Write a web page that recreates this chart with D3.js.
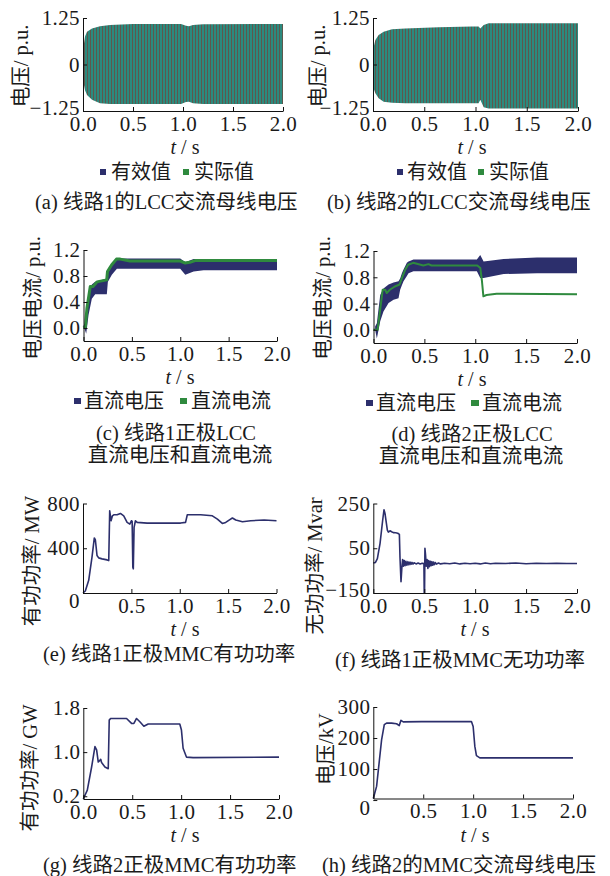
<!DOCTYPE html>
<html><head><meta charset="utf-8">
<script src="https://cdn.jsdelivr.net/npm/d3@7"></script>
<style>
html,body{margin:0;padding:0;background:#fff;}
text{font-family:"Liberation Serif","Noto Sans CJK SC",serif;fill:#1a1a1a;}
</style></head>
<body><svg id="c" width="610" height="876"></svg>
<script>
// ---------- data ----------
const xTickVals = [0, 0.5, 1.0, 1.5, 2.0];
// (a) LCC AC bus voltage, line 1 (envelope of oscillation, p.u.)
const tA   = [0, 0.02, 0.04, 0.09, 0.17, 0.27, 0.5, 0.98, 1.03, 1.06, 1.1, 1.2, 2.0];
const topA = [0.39, 0.75, 0.88, 0.97, 1.03, 1.06, 1.09, 1.09, 1.04, 1.03, 1.06, 1.08, 1.09];
const botA = [-0.42, -0.69, -0.82, -0.95, -1.04, -1.06, -1.06, -1.06, -1.01, -1.0, -1.04, -1.06, -1.06];
// (b) LCC AC bus voltage, line 2
const tB   = [0, 0.023, 0.055, 0.104, 0.185, 0.315, 0.64, 0.966, 1.03, 1.047, 1.08, 1.128, 1.6, 2.0];
const topB = [0.39, 0.66, 0.79, 0.88, 0.95, 0.97, 1.0, 1.02, 1.02, 0.97, 1.06, 1.11, 1.11, 1.11];
const botB = [-0.6, -0.77, -0.91, -1.0, -1.03, -1.04, -1.04, -1.04, -1.04, -0.95, -1.15, -1.18, -1.18, -1.18];
const yTicksAB = [-1.25, 0, 1.25];
const yLabelsAB = ["\u22121.25", "0", "1.25"];
// (c) line 1 DC voltage band and DC current
const tC   = [0, 0.028, 0.052, 0.086, 0.121, 0.241, 0.252, 0.293, 0.345, 1.0, 1.052, 1.138, 1.241, 2.0];
const lowC = [0.04, -0.09, 0.2, 0.45, 0.52, 0.52, 0.71, 0.82, 0.91, 0.91, 0.82, 0.87, 0.89, 0.89];
const upC  = [0.04, 0.09, 0.45, 0.67, 0.71, 0.76, 0.85, 0.96, 1.07, 1.07, 1.01, 1.06, 1.06, 1.06];
const tIc  = [0, 0.02, 0.035, 0.07, 0.1, 0.14, 0.24, 0.248, 0.29, 0.34, 0.38, 0.48, 1.0, 1.05, 1.1, 1.16, 2.0];
const vIc  = [0, 0.02, 0.3, 0.64, 0.64, 0.71, 0.74, 0.87, 0.97, 1.06, 1.06, 1.03, 1.03, 1.0, 1.01, 1.04, 1.04];
// (d) line 2 DC voltage band and DC current
const tD   = [0.016, 0.033, 0.066, 0.098, 0.148, 0.197, 0.246, 0.262, 0.279, 0.295, 0.328, 0.344, 0.393, 1.016, 1.049, 1.082, 1.279, 1.607, 2.0];
const lowD = [0, -0.13, 0.13, 0.28, 0.41, 0.46, 0.48, 0.61, 0.68, 0.74, 0.82, 0.86, 0.89, 0.89, 0.79, 0.79, 0.85, 0.86, 0.86];
const upD  = [0.05, 0.10, 0.53, 0.63, 0.69, 0.72, 0.74, 0.78, 0.86, 0.92, 1.02, 1.04, 1.07, 1.07, 1.14, 1.04, 1.08, 1.10, 1.10];
const tId  = [0, 0.04, 0.065, 0.09, 0.115, 0.13, 0.16, 0.21, 0.256, 0.28, 0.31, 0.34, 0.39, 0.49, 0.54, 0.57, 1.02, 1.05, 1.066, 1.08, 1.11, 1.21, 2.0];
const vId  = [0, 0, 0.3, 0.61, 0.61, 0.56, 0.61, 0.66, 0.69, 0.79, 0.91, 0.99, 1.02, 0.98, 1.0, 0.98, 0.98, 0.94, 0.74, 0.51, 0.53, 0.55, 0.54];
const yTicksCD = [0, 0.4, 0.8, 1.2];
const yLabelsCD = ["0.0", "0.4", "0.8", "1.2"];
// (e) MMC active power line 1 (MW)
const tE = [0, 0.024, 0.059, 0.093, 0.117, 0.128, 0.145, 0.162, 0.197, 0.249, 0.266, 0.276, 0.29, 0.304, 0.318, 0.352, 0.387, 0.421, 0.456, 0.484, 0.5, 0.508, 0.515, 0.52, 0.528, 0.542, 0.56, 0.663, 1.009, 1.06, 1.078, 1.216, 1.337, 1.389, 1.44, 1.475, 1.51, 1.544, 1.579, 1.648, 1.734, 1.872, 2.0];
const vE = [0, 18, 113, 320, 492, 474, 335, 314, 305, 296, 290, 735, 646, 690, 699, 699, 711, 690, 631, 616, 646, 640, 231, 216, 587, 646, 631, 625, 625, 631, 699, 699, 690, 661, 622, 631, 652, 670, 652, 637, 646, 652, 646];
const yTicksE = [0, 400, 800];
const yLabelsE = ["0", "400", "800"];
// (f) MMC reactive power line 1 (Mvar)
const tF = [0, 0.02, 0.04, 0.066, 0.092, 0.105, 0.115, 0.138, 0.148, 0.164, 0.18, 0.197, 0.22, 0.24, 0.256, 0.262, 0.272, 0.28, 0.288, 0.296, 0.304, 0.312, 0.32, 0.33, 0.34, 0.35, 0.36, 0.37, 0.38, 0.39, 0.40, 0.42, 0.44, 0.46, 0.48, 0.497, 0.500, 0.503, 0.507, 0.513, 0.52, 0.528, 0.536, 0.544, 0.552, 0.56, 0.568, 0.576, 0.584, 0.592, 0.60, 0.61, 0.62, 0.64, 0.66, 0.70, 0.75, 0.80, 0.85, 0.90, 0.95, 1.0, 1.05, 1.1, 1.15, 1.2, 1.3, 1.4, 1.5, 1.6, 1.7, 1.8, 1.9, 2.0];
const vF = [-16, -14, 4, 71, 175, 222, 205, 131, 122, 128, 124, 120, 119, 117, 112, 10, -100, -40, 0, -30, -5, -28, -8, -26, -10, -24, -12, -22, -13, -21, -15, -20, -16, -20, -17, -18, -150, -150, 50, 20, -30, 0, -40, -5, -32, -8, -28, -10, -26, -12, -23, -14, -21, -16, -20, -17, -19, -16, -20, -17, -19, -17, -20, -16, -19, -17, -18, -16, -19, -17, -18, -17, -18, -18];
const yTicksF = [-150, 50, 250];
const yLabelsF = ["\u2212150", "50", "250"];
// (g) MMC active power line 2 (GW)
const tG = [0, 0.041, 0.085, 0.119, 0.136, 0.153, 0.17, 0.178, 0.187, 0.221, 0.255, 0.265, 0.279, 0.323, 0.442, 0.493, 0.517, 0.544, 0.578, 0.619, 0.663, 0.986, 1.003, 1.02, 1.054, 1.122, 2.0];
const vG = [0.15, 0.31, 0.73, 1.10, 1.04, 0.82, 0.85, 0.87, 0.81, 0.73, 0.70, 1.58, 1.61, 1.61, 1.61, 1.52, 1.52, 1.61, 1.55, 1.47, 1.51, 1.51, 1.40, 1.07, 0.91, 0.90, 0.91];
const yTicksG = [0.2, 1.0, 1.8];
const yLabelsG = ["0.2", "1.0", "1.8"];
// (h) MMC AC bus voltage line 2 (kV)
const tH = [0, 0.033, 0.083, 0.11, 0.133, 0.183, 0.233, 0.26, 0.277, 0.3, 0.483, 0.983, 1.0, 1.017, 1.033, 1.067, 1.183, 2.0];
const vH = [5, 44, 194, 243, 248, 248, 246, 240, 257, 252, 253, 253, 237, 173, 143, 136, 136, 136];
const yTicksH = [0, 100, 200, 300];
const yLabelsH = ["0", "100", "200", "300"];

const NAVY = "#2c2f6c", GREEN = "#2f8a3e", TEAL = "#2c8a7e", RUST = "#7b3a30";

// ---------- drawing ----------
const svg = d3.select("#c");
const defs = svg.append("defs");
const pat = defs.append("pattern").attr("id","stripe").attr("patternUnits","userSpaceOnUse")
  .attr("width",3).attr("height",10);
pat.append("rect").attr("width",3).attr("height",10).attr("fill",TEAL);
pat.append("rect").attr("x",0).attr("width",0.9).attr("height",10).attr("fill",RUST).attr("opacity",0.7);

function zip(t, v){ return t.map((d,i)=>[d, v[i]]); }

function panel(o){
  const g = svg.append("g");
  const x = d3.scaleLinear().domain([0,2]).range([o.x0,o.x1]);
  const y = d3.scaleLinear().domain(o.yDom).range([o.y1,o.y0]);
  o.draw(g, x, y);
  const ax = g.append("g").attr("transform",`translate(0,${o.y1})`)
    .call(d3.axisBottom(x).tickValues(xTickVals).tickFormat((d)=> o.hideX0 && d===0 ? "" : d3.format(".1f")(d))
      .tickSize(-4).tickSizeOuter(0).tickPadding(5));
  const ay = g.append("g").attr("transform",`translate(${o.x0},0)`)
    .call(d3.axisLeft(y).tickValues(o.yTicks).tickFormat((d,i)=>o.yLabels[i])
      .tickSize(-4).tickSizeOuter(0).tickPadding(3));
  [ax, ay].forEach(a=>{
    a.attr("font-family",null).attr("font-size",null);
    a.selectAll("text").attr("font-size",21).attr("letter-spacing","0.4px").attr("fill","#1a1a1a");
    a.selectAll("line,path").attr("stroke","#111").attr("stroke-width",1);
  });
  if (o.zeroDrop) ay.selectAll("text").filter(d=>d===0).attr("dy","0.7em");
  if (o.lowLift) ay.selectAll("text").filter(d=>d===o.yDom[0]).attr("dy","0.15em");
  // x title
  const xt = g.append("text").attr("x",o.xtX).attr("y",o.y1 + 43).attr("text-anchor","middle").attr("font-size",20);
  xt.append("tspan").attr("font-style","italic").text("t");
  xt.append("tspan").text(" / s");
  // y title
  g.append("text").attr("transform",`translate(${o.ytX},${o.ytY}) rotate(-90)`)
    .attr("text-anchor","middle").attr("dy","0.35em").attr("font-size",20.5).text(o.ytitle);
  // caption
  o.caption.forEach((c,i)=>{
    g.append("text").attr("x",c[1]).attr("y",c[2]).attr("text-anchor",c[3]||"start")
      .attr("dy","0.35em").attr("font-size",20.5).text(c[0]);
  });
  if (o.legend){
    o.legend.forEach(L=>{
      g.append("rect").attr("x",L[1]).attr("y",o.legY-3).attr("width",L[3]||6).attr("height",6).attr("fill",L[0]);
      g.append("text").attr("x",L[2]).attr("y",o.legY).attr("dy","0.35em").attr("font-size",20).text(L[4]);
    });
  }
}

function envelope(t, top, bot){
  return (g,x,y)=>{
    g.append("path").datum(t.map((d,i)=>[d, top[i], bot[i]]))
      .attr("fill","url(#stripe)")
      .attr("d", d3.area().x(d=>x(d[0])).y0(d=>y(d[2])).y1(d=>y(d[1])));
  };
}
function bandLine(t, lo, up, ti, vi, w){
  return (g,x,y)=>{
    g.append("path").datum(t.map((d,i)=>[d, lo[i], up[i]]))
      .attr("fill",NAVY)
      .attr("d", d3.area().x(d=>x(d[0])).y0(d=>y(d[1])).y1(d=>y(d[2])));
    g.append("path").datum(zip(ti, vi)).attr("fill","none").attr("stroke",GREEN)
      .attr("stroke-width",w).attr("stroke-linejoin","round")
      .attr("d", d3.line().x(d=>x(d[0])).y(d=>y(d[1])));
  };
}
function line(t, v){
  return (g,x,y)=>{
    g.append("path").datum(zip(t, v)).attr("fill","none").attr("stroke",NAVY)
      .attr("stroke-width",1.6).attr("stroke-linejoin","round")
      .attr("d", d3.line().x(d=>x(d[0])).y(d=>y(d[1])));
  };
}

// (a)
panel({x0:83,x1:283,y0:18,y1:111,yDom:[-1.25,1.25],yTicks:yTicksAB,yLabels:yLabelsAB,lowLift:true,
  draw:envelope(tA,topA,botA), xtX:185, ytX:21,ytY:66, ytitle:"电压/ p.u.",
  legY:172, legend:[[NAVY,100,111,6,"有效值"],[GREEN,183,194,6,"实际值"]],
  caption:[["(a)  线路1的LCC交流母线电压",35,202]]});
// (b)
panel({x0:373,x1:578,y0:18,y1:111,yDom:[-1.25,1.25],yTicks:yTicksAB,yLabels:yLabelsAB,lowLift:true,
  draw:envelope(tB,topB,botB), xtX:472, ytX:318,ytY:66, ytitle:"电压/ p.u.",
  legY:172, legend:[[NAVY,397,407,6,"有效值"],[GREEN,478,489,6,"实际值"]],
  caption:[["(b)  线路2的LCC交流母线电压",327,202]]});
// (c)
panel({x0:83.5,x1:277,y0:250,y1:341,yDom:[-0.2,1.2],yTicks:yTicksCD,yLabels:yLabelsCD,
  draw:bandLine(tC,lowC,upC,tIc,vIc,3), xtX:180, ytX:33,ytY:298, ytitle:"电压电流/ p.u.",
  legY:401, legend:[[NAVY,74,84,7,"直流电压"],[GREEN,180,191,7,"直流电流"]],
  caption:[["(c)  线路1正极LCC",176,433,"middle"],["直流电压和直流电流",180,455,"middle"]]});
// (d)
panel({x0:373.5,x1:577,y0:251,y1:343,yDom:[-0.2,1.2],yTicks:yTicksCD,yLabels:yLabelsCD,
  draw:bandLine(tD,lowD,upD,tId,vId,2), xtX:472, ytX:323,ytY:298, ytitle:"电压电流/ p.u.",
  legY:403, legend:[[NAVY,366,376,7,"直流电压"],[GREEN,471,482,8,"直流电流"]],
  caption:[["(d)  线路2正极LCC",472,434,"middle"],["直流电压和直流电流",471,456,"middle"]]});
// (e)
panel({x0:83,x1:276.5,y0:503.5,y1:593,yDom:[0,800],yTicks:yTicksE,yLabels:yLabelsE,hideX0:true,zeroDrop:true,
  draw:line(tE,vE), xtX:185, ytX:32,ytY:561, ytitle:"有功功率/ MW",
  caption:[["(e)  线路1正极MMC有功功率",43,654]]});
// (f)
panel({x0:373.3,x1:577,y0:503.5,y1:593,yDom:[-150,250],yTicks:yTicksF,yLabels:yLabelsF,lowLift:true,
  draw:line(tF,vF), xtX:475, ytX:315,ytY:566, ytitle:"无功功率/ Mvar",
  caption:[["(f)  线路1正极MMC无功功率",335,660]]});
// (g)
panel({x0:83.3,x1:279,y0:708,y1:799,yDom:[0.15,1.8],yTicks:yTicksG,yLabels:yLabelsG,
  draw:line(tG,vG), xtX:185, ytX:30,ytY:768, ytitle:"有功功率/ GW",
  caption:[["(g)  线路2正极MMC有功功率",43,865]]});
// (h)
panel({x0:373.3,x1:573,y0:707,y1:798.5,yDom:[5,300],yTicks:yTicksH,yLabels:yLabelsH,hideX0:true,zeroDrop:true,
  draw:line(tH,vH), xtX:475, ytX:326,ytY:749, ytitle:"电压/kV",
  caption:[["(h)  线路2的MMC交流母线电压",322,865]]});
</script></body></html>
